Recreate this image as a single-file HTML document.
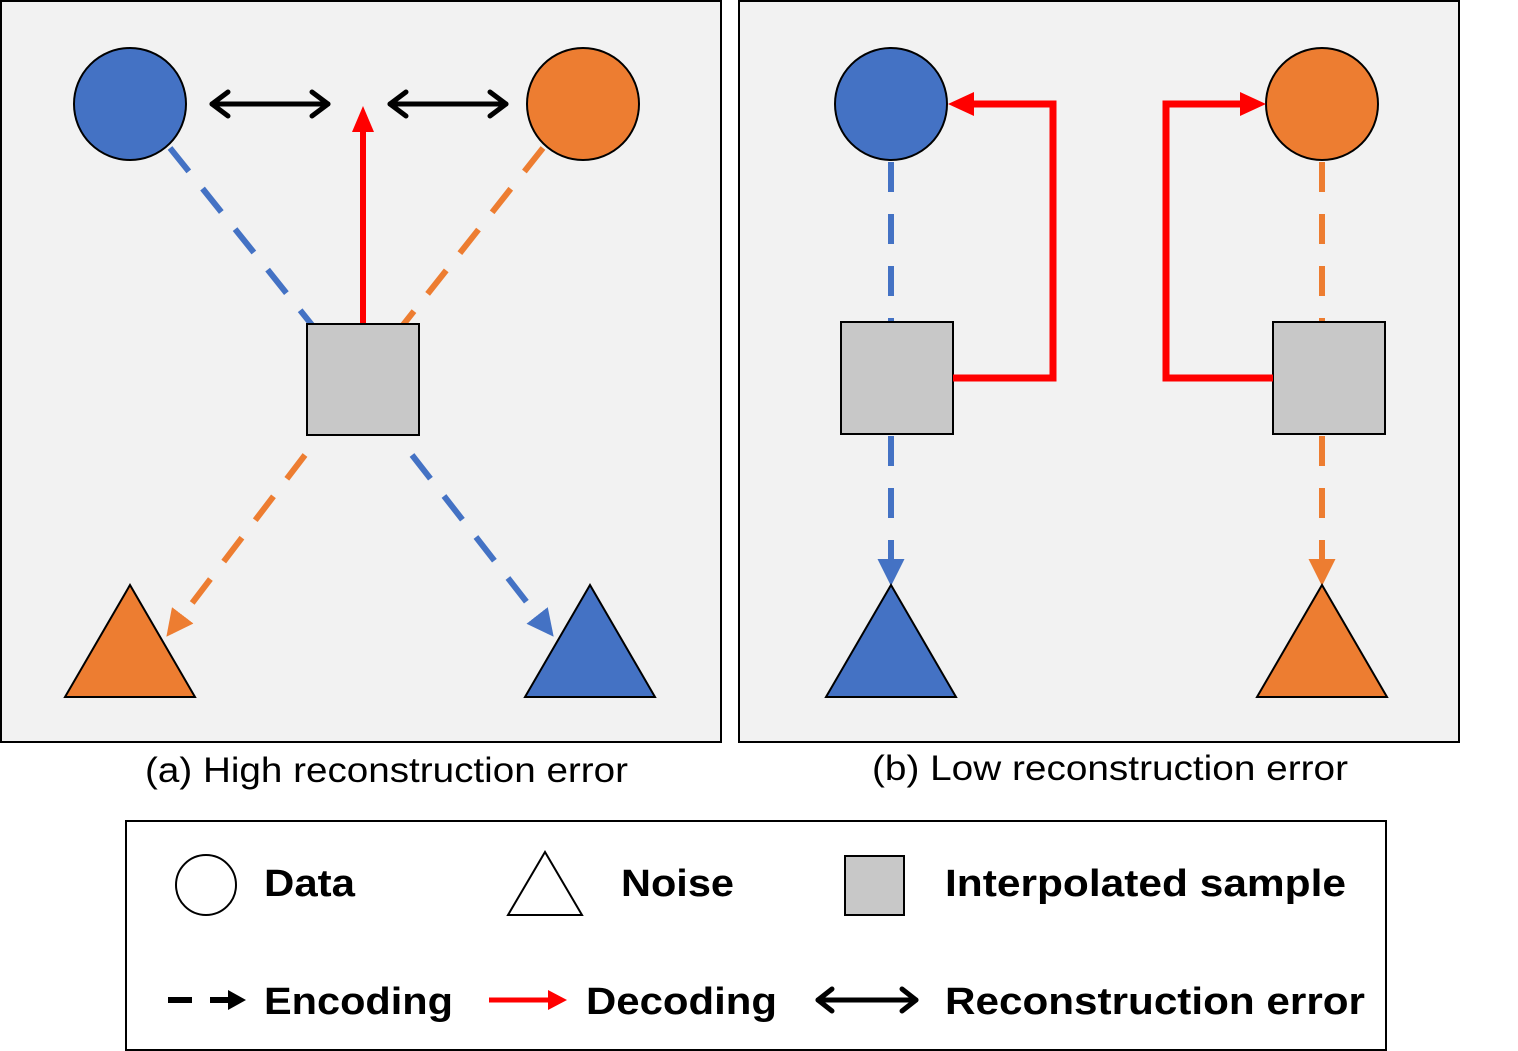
<!DOCTYPE html>
<html><head><meta charset="utf-8"><style>body{margin:0;background:#fff}svg{display:block}</style></head><body>
<svg width="1518" height="1051" viewBox="0 0 1518 1051" xmlns="http://www.w3.org/2000/svg">
<defs>
<marker id="bl" markerWidth="4.5" markerHeight="4.5" refX="3.5" refY="2.25" orient="auto" markerUnits="strokeWidth"><path d="M0,0 L4.5,2.25 L0,4.5 z" fill="#4472c4"/></marker>
<marker id="or" markerWidth="4.5" markerHeight="4.5" refX="3.5" refY="2.25" orient="auto" markerUnits="strokeWidth"><path d="M0,0 L4.5,2.25 L0,4.5 z" fill="#ed7d31"/></marker>
</defs>
<rect x="1" y="1" width="720" height="741" fill="#f2f2f2" stroke="#000" stroke-width="2"/>
<rect x="739" y="1" width="720" height="741" fill="#f2f2f2" stroke="#000" stroke-width="2"/>
<g stroke-width="6" fill="none" stroke-dasharray="30,22">
<line x1="170" y1="148" x2="312" y2="325" stroke="#4472c4"/>
<line x1="543" y1="148" x2="403" y2="325" stroke="#ed7d31"/>
<line x1="305" y1="455" x2="170" y2="632" stroke="#ed7d31" marker-end="url(#or)"/>
<line x1="412" y1="455" x2="550" y2="632" stroke="#4472c4" marker-end="url(#bl)"/>
</g>
<circle cx="130" cy="104" r="56" fill="#4472c4" stroke="#000" stroke-width="2"/>
<circle cx="583" cy="104" r="56" fill="#ed7d31" stroke="#000" stroke-width="2"/>
<rect x="307" y="324" width="112" height="111" fill="#c8c8c8" stroke="#000" stroke-width="2"/>
<line x1="363" y1="323" x2="363" y2="130" stroke="#f00" stroke-width="6"/>
<path d="M352,132 L363,106 L374,132 z" fill="#f00"/>
<g stroke="#000" stroke-width="5" fill="none" stroke-linecap="round" stroke-linejoin="round">
<line x1="212" y1="104" x2="328" y2="104"/><path d="M228,92 L212,104 L228,116 M312,92 L328,104 L312,116"/>
<line x1="390" y1="104" x2="506" y2="104"/><path d="M406,92 L390,104 L406,116 M490,92 L506,104 L490,116"/>
</g>
<polygon points="65,697 130,585 195,697" fill="#ed7d31" stroke="#000" stroke-width="2"/>
<polygon points="525,697 590,585 655,697" fill="#4472c4" stroke="#000" stroke-width="2"/>
<g stroke-width="6" fill="none" stroke-dasharray="30,22">
<line x1="891" y1="162" x2="891" y2="322" stroke="#4472c4"/>
<line x1="891" y1="436" x2="891" y2="580" stroke="#4472c4" marker-end="url(#bl)"/>
<line x1="1322" y1="162" x2="1322" y2="322" stroke="#ed7d31"/>
<line x1="1322" y1="436" x2="1322" y2="580" stroke="#ed7d31" marker-end="url(#or)"/>
</g>
<circle cx="891" cy="104" r="56" fill="#4472c4" stroke="#000" stroke-width="2"/>
<circle cx="1322" cy="104" r="56" fill="#ed7d31" stroke="#000" stroke-width="2"/>
<rect x="841" y="322" width="112" height="112" fill="#c8c8c8" stroke="#000" stroke-width="2"/>
<rect x="1273" y="322" width="112" height="112" fill="#c8c8c8" stroke="#000" stroke-width="2"/>
<path d="M953,378 H1053 V104 H972" fill="none" stroke="#f00" stroke-width="7"/>
<path d="M974,92 L948,104 L974,116 z" fill="#f00"/>
<path d="M1273,378 H1166 V104 H1242" fill="none" stroke="#f00" stroke-width="7"/>
<path d="M1240,92 L1266,104 L1240,116 z" fill="#f00"/>
<polygon points="826,697 891,585 956,697" fill="#4472c4" stroke="#000" stroke-width="2"/>
<polygon points="1257,697 1322,585 1387,697" fill="#ed7d31" stroke="#000" stroke-width="2"/>
<g font-family="Liberation Sans, sans-serif" font-size="35" fill="#000">
<text x="145" y="782" textLength="483" lengthAdjust="spacingAndGlyphs">(a) High reconstruction error</text>
<text x="872" y="780" textLength="476" lengthAdjust="spacingAndGlyphs">(b) Low reconstruction error</text>
</g>
<rect x="126" y="821" width="1260" height="229" fill="#fff" stroke="#000" stroke-width="2"/>
<ellipse cx="206" cy="885" rx="30" ry="30" fill="#fff" stroke="#000" stroke-width="2"/>
<polygon points="508,915 545,852 582,915" fill="#fff" stroke="#000" stroke-width="2"/>
<rect x="845" y="856" width="59" height="59" fill="#c8c8c8" stroke="#000" stroke-width="2"/>
<line x1="168" y1="1000" x2="192" y2="1000" stroke="#000" stroke-width="6"/>
<line x1="210" y1="1000" x2="232" y2="1000" stroke="#000" stroke-width="6"/>
<path d="M228,990 L246,1000 L228,1010 z" fill="#000"/>
<line x1="489" y1="1000" x2="550" y2="1000" stroke="#f00" stroke-width="5"/>
<path d="M548,990 L567,1000 L548,1010 z" fill="#f00"/>
<g stroke="#000" stroke-width="5" fill="none" stroke-linecap="round" stroke-linejoin="round">
<line x1="818" y1="1000" x2="916" y2="1000"/><path d="M832,989 L818,1000 L832,1011 M902,989 L916,1000 L902,1011"/>
</g>
<g font-family="Liberation Sans, sans-serif" font-size="38" font-weight="bold" fill="#000">
<text x="264" y="896" textLength="91" lengthAdjust="spacingAndGlyphs">Data</text>
<text x="621" y="896" textLength="113" lengthAdjust="spacingAndGlyphs">Noise</text>
<text x="945" y="896" textLength="401" lengthAdjust="spacingAndGlyphs">Interpolated sample</text>
<text x="264" y="1014" textLength="189" lengthAdjust="spacingAndGlyphs">Encoding</text>
<text x="586" y="1014" textLength="191" lengthAdjust="spacingAndGlyphs">Decoding</text>
<text x="945" y="1014" textLength="420" lengthAdjust="spacingAndGlyphs">Reconstruction error</text>
</g>
</svg>
</body></html>
